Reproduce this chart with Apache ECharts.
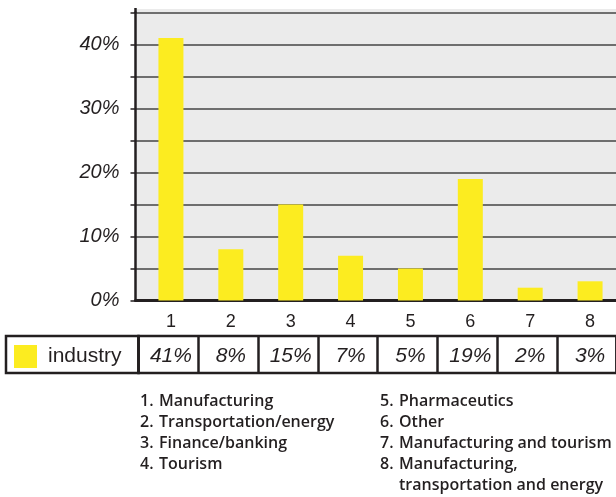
<!DOCTYPE html>
<html>
<head>
<meta charset="utf-8">
<title>Industry shares</title>
<script src="https://cdn.jsdelivr.net/npm/echarts@6/dist/echarts.min.js"></script>
<style>
  html, body { margin: 0; padding: 0; background: #fff; overflow: hidden; }
  /* the drawing runs a few pixels past the right edge of the page */
  #chart { width: 620px; height: 497px; }
</style>
</head>
<body>
<div id="chart"></div>
<script>
// Sector numbers along the x axis
const categories = ['1', '2', '3', '4', '5', '6', '7', '8'];
// Share of respondents per sector (percent)
const industryShare = [41, 8, 15, 7, 5, 19, 2, 3];
// Sector names for the key under the table
const sectorNames = [
  'Manufacturing',
  'Transportation/energy',
  'Finance/banking',
  'Tourism',
  'Pharmaceutics',
  'Other',
  'Manufacturing and tourism',
  'Manufacturing,\ntransportation and energy'
];
const seriesName = 'industry';

const INK = '#231f20';
const YELLOW = '#fcec20';
const BASE_FONT = 'Liberation Sans, Arial, sans-serif';
const KEY_FONT = '"Open Sans", Roboto, sans-serif';

// Key below the chart: two columns of four entries
const keyColumns = [140, 380];
const keyTop = 401;
const keyRow = 21;
const keyElements = [];
sectorNames.forEach(function (name, i) {
  const x = keyColumns[Math.floor(i / 4)];
  const y = keyTop + (i % 4) * keyRow - keyRow / 2;
  keyElements.push({
    type: 'text',
    style: { text: (i + 1) + '.', x: x, y: y, fill: INK, font: '600 16px ' + KEY_FONT, verticalAlign: 'top', lineHeight: keyRow }
  });
  keyElements.push({
    type: 'text',
    style: { text: name, x: x + 19, y: y, fill: INK, font: '600 16px ' + KEY_FONT, verticalAlign: 'top', lineHeight: keyRow }
  });
});

const chart = echarts.init(document.getElementById('chart'), null, { renderer: 'canvas' });

chart.setOption({
  animation: false,
  backgroundColor: '#ffffff',
  grid: [
    // shaded plot frame with the value axis
    { left: 135.5, right: 0, top: 12.5, height: 288, show: true, backgroundColor: '#ebebeb', borderWidth: 0 },
    // bars
    { left: 141, width: 479, top: 12.5, height: 288 },
    // value cells of the data table
    { left: 138.5, width: 478, top: 336, height: 37, show: true, borderColor: INK, borderWidth: 2.5, backgroundColor: 'transparent' },
    // legend cell of the data table
    { left: 6, width: 132.5, top: 336, height: 37, show: true, borderColor: INK, borderWidth: 2.5, backgroundColor: 'transparent' }
  ],
  xAxis: [
    {
      gridIndex: 0, type: 'category', data: [''],
      axisLine: { show: true, lineStyle: { color: INK, width: 3 } },
      axisTick: { show: false }, axisLabel: { show: false }, splitLine: { show: false }
    },
    {
      gridIndex: 1, type: 'category', data: categories,
      axisLine: { show: false }, axisTick: { show: false },
      axisLabel: { color: INK, fontSize: 18, fontFamily: BASE_FONT, margin: 13 }
    },
    {
      gridIndex: 1, type: 'category', data: categories, position: 'bottom', offset: 37,
      axisLine: { show: false }, axisTick: { show: false },
      axisLabel: {
        color: INK, fontSize: 21, fontStyle: 'italic', fontFamily: BASE_FONT, margin: 8,
        formatter: function (v, i) { return industryShare[i] + '%'; }
      }
    },
    {
      gridIndex: 2, type: 'category', data: categories, boundaryGap: true,
      axisLine: { show: false }, axisTick: { show: false }, axisLabel: { show: false },
      splitLine: { show: true, interval: 0, lineStyle: { color: INK, width: 2.5 } }
    },
    { gridIndex: 3, type: 'category', data: [''], show: false }
  ],
  yAxis: [
    {
      gridIndex: 0, type: 'value', min: 0, max: 45, interval: 5,
      axisLine: { show: true, lineStyle: { color: INK, width: 2.5 } },
      axisTick: { show: true, length: 5, lineStyle: { color: INK, width: 1.5 } },
      splitLine: { show: true, lineStyle: { color: '#454545', width: 1.5 } },
      axisLabel: {
        color: INK, fontSize: 20, fontStyle: 'italic', fontFamily: BASE_FONT, margin: 16,
        formatter: function (v) { return v % 10 === 0 ? v + '%' : ''; }
      }
    },
    { gridIndex: 1, type: 'value', min: 0, max: 45, show: false },
    { gridIndex: 2, type: 'value', min: 0, max: 1, show: false },
    { gridIndex: 3, type: 'value', min: 0, max: 1, show: false }
  ],
  legend: {
    data: [seriesName], left: 14, top: 345, padding: 0,
    icon: 'rect', itemWidth: 23, itemHeight: 23,
    textStyle: { color: INK, fontSize: 21, fontFamily: BASE_FONT, padding: [0, 0, 0, 6] },
    selectedMode: false
  },
  series: [
    {
      name: seriesName, type: 'bar', xAxisIndex: 1, yAxisIndex: 1,
      data: industryShare, barWidth: 25,
      itemStyle: { color: YELLOW }
    }
  ],
  graphic: [
    // shading and axis stub above the top gridline
    { type: 'rect', silent: true, z: -1, shape: { x: 135.5, y: 9, width: 485, height: 3.5 }, style: { fill: '#ebebeb' } },
    { type: 'line', silent: true, shape: { x1: 135.5, y1: 8, x2: 135.5, y2: 13 }, style: { stroke: INK, lineWidth: 2.5 } }
  ].concat(keyElements)
});
</script>
</body>
</html>
